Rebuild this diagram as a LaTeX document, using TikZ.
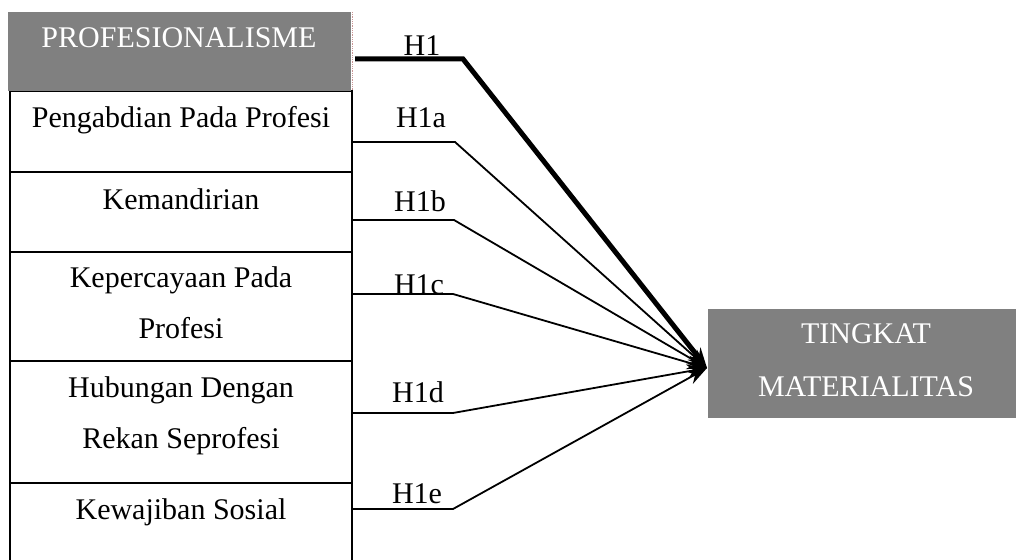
\documentclass[tikz,border=0pt]{standalone}
\usepackage{fontspec}
\setmainfont{Liberation Serif}
\usetikzlibrary{arrows.meta}
\definecolor{boxgray}{RGB}{128,128,128}
\definecolor{edgered}{RGB}{200,150,150}
\begin{document}
\begin{tikzpicture}[x=1pt,y=1pt,
  txt/.style={font=\fontsize{30}{36}\selectfont, inner sep=0pt, anchor=base},
  wtxt/.style={txt, text=white},
  whitebox/.style={draw=black, line width=2.2pt, fill=white},
  graybox/.style={draw=none, fill=boxgray},
  conn/.style={line width=1.8pt, -{Stealth[length=20pt,width=14pt]}},
  thickconn/.style={line width=5pt, -{Stealth[length=20pt,width=15pt]}}
]
\useasboundingbox (0,0) rectangle (1016,559);

% left column boxes
\path[whitebox] (10,468) rectangle (352,387) node[pos=0.5,inner sep=0pt] (b1) {};
\path[whitebox] (10,387) rectangle (352,307) node[pos=0.5,inner sep=0pt] (b2) {};
\path[whitebox] (10,307) rectangle (352,198) node[pos=0.5,inner sep=0pt] (b3) {};
\path[whitebox] (10,198) rectangle (352,76) node[pos=0.5,inner sep=0pt] (b4) {};
\path[whitebox] (10,76) rectangle (352,-20) node[pos=0.5,inner sep=0pt] (b5) {};
\path[graybox] (8,547) rectangle (351,468) node[pos=0.5,inner sep=0pt] (b0) {};
\draw[edgered, line width=0.8pt, densely dotted] (352,547) -- (352,468);

% left texts
\node[wtxt] (t0) at (179,511) {PROFESIONALISME};
\node[txt] (t1) at (181,431) {Pengabdian Pada Profesi};
\node[txt] (t2) at (181,349) {Kemandirian};
\node[txt] (t3a) at (181,271) {Kepercayaan Pada};
\node[txt] (t3b) at (181,220) {Profesi};
\node[txt] (t4a) at (181,161) {Hubungan Dengan};
\node[txt] (t4b) at (181,110) {Rekan Seprofesi};
\node[txt] (t5) at (181,39) {Kewajiban Sosial};

% target box
\node[graybox, minimum width=308pt, minimum height=109pt, inner sep=0pt] (tm) at (862,195.5) {};
\node[wtxt] (tm1) at (866,215) {TINGKAT};
\node[wtxt] (tm2) at (866,162) {MATERIALITAS};

\coordinate (tip) at (707,191);

% bend points
\coordinate (s0) at (355,500); \coordinate (k0) at (463,500);
\coordinate (s1) at (352,417); \coordinate (k1) at (455,417);
\coordinate (s2) at (352,339); \coordinate (k2) at (454,339);
\coordinate (s3) at (352,265); \coordinate (k3) at (453,265);
\coordinate (s4) at (352,146); \coordinate (k4) at (453,146);
\coordinate (s5) at (352,50);  \coordinate (k5) at (453,50);

% connectors
\draw[conn] (s1) -- (k1) -- (tip);
\draw[conn] (s2) -- (k2) -- (tip);
\draw[conn] (s3) -- (k3) -- (tip);
\draw[conn] (s4) -- (k4) -- (tip);
\draw[conn] (s5) -- (k5) -- (tip);
\draw[thickconn] (s0) -- (k0) -- (tip);

% labels
\node[txt] (h1) at (422,503) {H1};
\node[txt] (h1a) at (421,431) {H1a};
\node[txt] (h1b) at (420,347) {H1b};
\node[txt] (h1c) at (419,264) {H1c};
\node[txt] (h1d) at (418,156) {H1d};
\node[txt] (h1e) at (417,56) {H1e};
\end{tikzpicture}
\end{document}
